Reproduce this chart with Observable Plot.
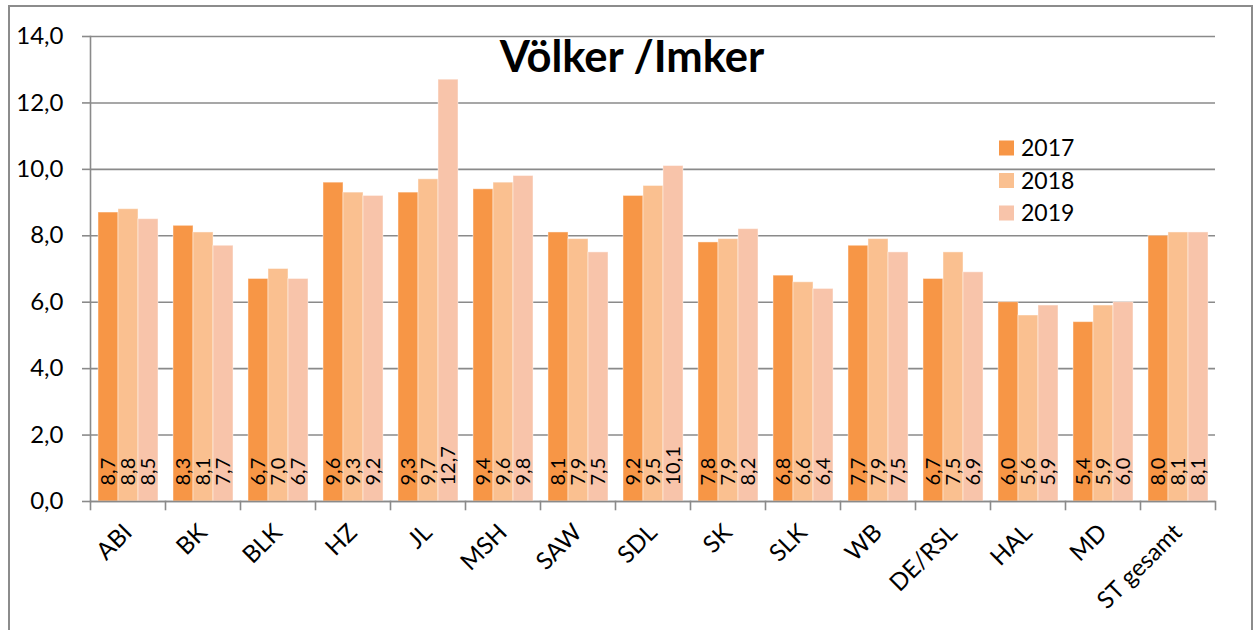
<!DOCTYPE html>
<html>
<head>
<meta charset="utf-8">
<script src="https://cdn.jsdelivr.net/npm/d3@7"></script>
<script src="https://cdn.jsdelivr.net/npm/@observablehq/plot@0.6"></script>
<style>
  html, body { margin: 0; padding: 0; background: #fff; }
  #wrap { position: relative; width: 1257px; height: 630px; overflow: hidden; font-family: Lato, "Open Sans", sans-serif; }
  #border { position: absolute; left: 8px; top: 5px; width: 1245px; height: 700px; border: 2px solid #8c8c8c; box-sizing: border-box; pointer-events: none; }
</style>
</head>
<body>
<div id="wrap"><div id="chart"></div><div id="border"></div></div>
<script>
const categories = ["ABI","BK","BLK","HZ","JL","MSH","SAW","SDL","SK","SLK","WB","DE/RSL","HAL","MD","ST gesamt"];
const years = ["2017","2018","2019"];
const v2017 = [8.7,8.3,6.7,9.6,9.3,9.4,8.1,9.2,7.8,6.8,7.7,6.7,6.0,5.4,8.0];
const v2018 = [8.8,8.1,7.0,9.3,9.7,9.6,7.9,9.5,7.9,6.6,7.9,7.5,5.6,5.9,8.1];
const v2019 = [8.5,7.7,6.7,9.2,12.7,9.8,7.5,10.1,8.2,6.4,7.5,6.9,5.9,6.0,8.1];
const yTicks = [0,2,4,6,8,10,12,14];
const colors = ["#F79646","#FAC090","#F8C4AA"];
const titleText = "Völker /Imker";

const series = [v2017, v2018, v2019];
const rows = [];
categories.forEach((c, i) => years.forEach((y, j) => rows.push({cat: c, year: y, value: series[j][i]})));
const fmt = v => v.toFixed(1).replace(".", ",");

const W = 1257, H = 630, mT = 36, mB = 129, mL = 86, mR = 38;
const innerH = H - mT - mB;
const gray = "#8a8a8a";
const FONT = "Lato, 'Open Sans', sans-serif";

const plot = Plot.plot({
  width: W, height: H,
  marginTop: mT, marginBottom: mB, marginLeft: mL, marginRight: mR,
  style: {fontFamily: FONT, color: "black", background: "transparent"},
  fx: {domain: categories, padding: 0, label: null},
  x: {domain: years, paddingInner: 0, paddingOuter: 0.3, axis: null},
  y: {domain: [0, 14], label: null},
  color: {domain: years, range: colors},
  marks: [
    Plot.gridY(yTicks, {stroke: gray, strokeOpacity: 1, strokeWidth: 1.6}),
    Plot.barY(rows, {fx: "cat", x: "year", y: "value", fill: "year", stroke: "#ffffff", strokeOpacity: 0.45, strokeWidth: 1}),
    Plot.ruleY([0], {stroke: gray, strokeWidth: 1.6}),
    Plot.frame({anchor: "left", facetAnchor: "left", stroke: gray, strokeWidth: 1.6}),
    Plot.frame({anchor: "left", insetTop: innerH, insetBottom: -8, stroke: gray, strokeWidth: 1.6}),
    Plot.frame({anchor: "right", facetAnchor: "right", insetTop: innerH, insetBottom: -8, stroke: gray, strokeWidth: 1.6}),
    Plot.text(rows, {fx: "cat", x: "year", y: d => 0, text: d => fmt(d.value), rotate: -90, textAnchor: "start", dy: -16, fontSize: 20, fill: "black"}),
    Plot.axisY({ticks: yTicks, tickFormat: fmt, tickSize: 8, tickPadding: 19, fontSize: 24, stroke: gray, strokeWidth: 1.6, color: "black", label: null}),
    Plot.axisFx({anchor: "bottom", tickRotate: -45, tickSize: 0, tickPadding: 27, fontSize: 24, label: null, color: "black"})
  ]
});
document.getElementById("chart").appendChild(plot);

const svg = d3.select(plot);
svg.append("text")
  .attr("x", 632).attr("y", 72)
  .attr("text-anchor", "middle")
  .attr("font-family", FONT)
  .attr("font-weight", "bold")
  .attr("font-size", 43.5)
  .attr("fill", "black")
  .text(titleText);

const lg = svg.append("g").attr("font-family", FONT).attr("text-anchor", "start");
years.forEach((y, i) => {
  const cy = 148 + i * 32.5;
  lg.append("rect").attr("x", 999).attr("y", cy - 7.5).attr("width", 15).attr("height", 15).attr("fill", colors[i]);
  lg.append("text").attr("x", 1021).attr("y", cy).attr("dy", "0.36em").attr("text-anchor", "start").attr("font-size", 23).attr("fill", "black").text(y);
});
</script>
</body>
</html>
